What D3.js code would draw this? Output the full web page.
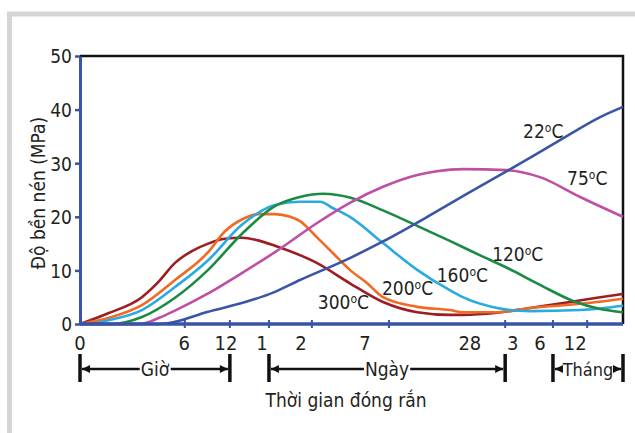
<!DOCTYPE html>
<html>
<head>
<meta charset="utf-8">
<script src="https://cdn.jsdelivr.net/npm/d3@7"></script>
<style>
body { margin: 0; background: #fff; }
text { font-family: "DejaVu Sans Condensed", "Liberation Sans Narrow", sans-serif; fill: #231f20; }
</style>
</head>
<body>
<div class="chart__container"></div>
<script>
/*-------------------------------------INIT-------------------------------------*/

const CHART__WIDTH = 635;
const CHART__HEIGHT = 433;

const MARGIN = { top: 56, right: 12, bottom: 109, left: 80 };
const W = CHART__WIDTH - MARGIN.left - MARGIN.right;
const H = CHART__HEIGHT - MARGIN.top - MARGIN.bottom;

const FONT = 19;

// x is a position along the segmented time axis (0 = start, 100 = right end)
const yTicks = [0, 10, 20, 30, 40, 50];
const xTickMarks = [19.3, 27.6, 34.8, 42.7, 56.9, 78.3, 87.1, 93.4];
const xTickLabels = ["0", "6", "12", "1", "2", "7", "28", "3", "6", "12"];
const xTickLabelAt = [0, 19.2, 26.9, 33.5, 40.7, 52.5, 71.8, 79.7, 84.7, 91.2];

const spanNames = ["Giờ", "Ngày", "Tháng"];
const spanFrom = [0, 34.8, 87.1];
const spanTo = [27.6, 78.3, 100];

const temps = ["22", "75", "120", "160", "200", "300"];
const colors = ["#3a55a6", "#bf4fa5", "#1b8b44", "#29aae1", "#f26a21", "#9c1e23"];

const s22 = [[0,0],[13,0],[15.7,0.1],[23.6,2.3],[29.8,3.9],[35.9,6.0],[40.5,8.2],[49.7,12.3],[55.8,15.4],[64.5,20.3],[71.8,24.6],[78.6,28.5],[88.4,34.3],[95.8,38.6],[100,40.5]];
const s75 = [[0,0],[11,0],[14.7,1.2],[17.5,2.5],[23.6,5.7],[29.8,9.5],[35.9,13.4],[43.6,18.8],[49.7,22.6],[55.8,25.6],[62.1,27.8],[65.7,28.5],[70.5,28.9],[78.6,28.7],[84.7,27.4],[92.1,23.7],[100,20]];
const s120 = [[0,0],[5.9,0],[11.4,1.3],[17.5,4.9],[23.6,10.1],[29.8,16.8],[35.9,22.0],[40.5,23.7],[44.8,24.3],[49.7,23.6],[55.8,21.2],[62.1,18.3],[68.1,15.5],[73.7,12.8],[78.6,10.5],[84.7,7.3],[90.8,4.3],[95.8,2.8],[100,2.2]];
const s160 = [[0,0],[1.5,0],[5.2,0.7],[11.4,2.6],[17.5,6.9],[23.6,11.9],[29.8,18.5],[35.9,22.2],[40.5,22.8],[44.2,22.8],[46.6,21.6],[49.7,20.0],[55.8,15.1],[62.1,10.1],[68.1,6.3],[70.5,5.0],[76.8,3.0],[82.9,2.4],[92.1,2.6],[100,3.4]];
const s200 = [[0,0],[5.2,1.1],[11.4,3.5],[17.5,8.2],[23.6,13.4],[26.7,17.3],[29.8,19.5],[32.8,20.5],[35.9,20.5],[38.7,20.0],[40.5,19.2],[43.6,16.2],[46.6,13.2],[49.7,10.1],[52.9,7.6],[55.8,5.0],[62.1,3.2],[68.1,2.6],[70.5,2.2],[76.8,2.2],[82.9,3.0],[89.0,3.5],[95.2,4.1],[100,4.7]];
const s300 = [[0,0],[5.2,2.0],[11.4,5.0],[14.4,7.8],[17.5,11.4],[20.6,13.6],[23.6,15.0],[26.7,15.9],[29.8,16.1],[32.8,15.6],[35.9,14.6],[43.6,11.4],[49.7,7.6],[55.8,4.1],[62.1,2.2],[68.1,1.7],[70.5,1.7],[76.8,2.1],[82.9,3.0],[89.0,3.9],[95.2,4.9],[100,5.6]];
const series = [s22, s75, s120, s160, s200, s300];

// where each temperature label starts (x pos, y value of baseline)
const labelAt = [[81.6, 34.7], [89.7, 25.9], [75.9, 11.8], [65.7, 7.8], [55.6, 5.4], [43.8, 2.8]];

/*-------------------------------------Graph-------------------------------------*/

const SVG = d3.select(".chart__container").append("svg")
    .attr("width", CHART__WIDTH).attr("height", CHART__HEIGHT);

// grey frame
SVG.append("rect")
    .attr("x", 9.5).attr("y", 14)
    .attr("width", 700).attr("height", 500)
    .attr("fill", "#fff").attr("stroke", "#d5d5d5").attr("stroke-width", 5);

const g = SVG.append("g").attr("transform", `translate(${MARGIN.left},${MARGIN.top})`);

const x = d3.scaleLinear().domain([0, 100]).range([0, W]);
const y = d3.scaleLinear().domain([0, 50]).range([H, 0]);

const AXIS_BLUE = "#3953a5";

// top and right border
g.append("path")
    .attr("d", `M0,0H${W}V${H}`)
    .attr("fill", "none").attr("stroke", "#111").attr("stroke-width", 2.5);

// curves
const line = d3.line().x(d => x(d[0])).y(d => y(d[1])).curve(d3.curveMonotoneX);
const drawOrder = [5, 4, 3, 2, 1, 0];
drawOrder.forEach(i => {
    g.append("path")
        .datum(series[i])
        .attr("d", line)
        .attr("fill", "none")
        .attr("stroke", colors[i])
        .attr("stroke-width", 2.6);
});

// y axis
const yAxis = g.append("g")
    .call(d3.axisLeft(y).tickValues(yTicks).tickSize(5).tickSizeOuter(0).tickPadding(3));
yAxis.select(".domain").attr("stroke", AXIS_BLUE).attr("stroke-width", 3);
yAxis.selectAll(".tick line").attr("stroke", AXIS_BLUE).attr("stroke-width", 2.5);
yAxis.selectAll(".tick text")
    .attr("font-size", FONT)
    .attr("font-family", null)
    .attr("fill", "#231f20")
    .attr("dy", "0.36em");

// x axis
g.append("line")
    .attr("x1", x(0)).attr("x2", x(100))
    .attr("y1", H).attr("y2", H)
    .attr("stroke", AXIS_BLUE).attr("stroke-width", 3.5);

g.selectAll(".xtick").data(xTickMarks).join("line")
    .attr("class", "xtick")
    .attr("x1", d => x(d)).attr("x2", d => x(d))
    .attr("y1", H - 4).attr("y2", H + 4)
    .attr("stroke", AXIS_BLUE).attr("stroke-width", 2);

g.selectAll(".xlabel").data(xTickLabels).join("text")
    .attr("class", "xlabel")
    .attr("x", (d, i) => x(xTickLabelAt[i]))
    .attr("y", H + 26)
    .attr("text-anchor", "middle")
    .attr("font-size", FONT + 1)
    .text(d => d);

// temperature labels
temps.forEach((t, i) => {
    const txt = g.append("text")
        .attr("x", x(labelAt[i][0]))
        .attr("y", y(labelAt[i][1]))
        .attr("font-size", FONT);
    txt.append("tspan").text(t);
    txt.append("tspan").attr("font-size", 12).attr("dy", -6).text("o");
    txt.append("tspan").attr("dy", 6).text("C");
});

// spans (Giờ / Ngày / Tháng)
const defs = SVG.append("defs");
defs.append("marker")
    .attr("id", "arrow")
    .attr("viewBox", "0 0 10 10")
    .attr("refX", 10).attr("refY", 5)
    .attr("markerWidth", 10).attr("markerHeight", 8)
    .attr("markerUnits", "userSpaceOnUse")
    .attr("orient", "auto")
    .append("path").attr("d", "M0,0L10,5L0,10Z").attr("fill", "#111");

const spanY = H + 45;
spanNames.forEach((name, i) => {
    const a = x(spanFrom[i]), b = x(spanTo[i]);
    [a, b].forEach(px => {
        g.append("line")
            .attr("x1", px).attr("x2", px)
            .attr("y1", spanY - 15).attr("y2", spanY + 13)
            .attr("stroke", "#111").attr("stroke-width", 3.5);
    });
    const label = g.append("text")
        .attr("x", (a + b) / 2)
        .attr("y", spanY + 7)
        .attr("text-anchor", "middle")
        .attr("font-size", i === 2 ? FONT - 1 : FONT)
        .text(name);
    const bb = label.node().getBBox();
    g.append("line")
        .attr("x1", bb.x - 1).attr("x2", a + 2)
        .attr("y1", spanY).attr("y2", spanY)
        .attr("stroke", "#111").attr("stroke-width", 2.5)
        .attr("marker-end", "url(#arrow)");
    g.append("line")
        .attr("x1", bb.x + bb.width + 1).attr("x2", b - 2)
        .attr("y1", spanY).attr("y2", spanY)
        .attr("stroke", "#111").attr("stroke-width", 2.5)
        .attr("marker-end", "url(#arrow)");
});

// axis titles
g.append("text")
    .attr("x", x(49))
    .attr("y", H + 83)
    .attr("text-anchor", "middle")
    .attr("font-size", FONT)
    .text("Thời gian đóng rắn");

SVG.append("text")
    .attr("transform", `translate(45,${MARGIN.top + H / 2 + 3}) rotate(-90)`)
    .attr("text-anchor", "middle")
    .attr("font-size", FONT)
    .text("Độ bền nén (MPa)");
</script>
</body>
</html>
